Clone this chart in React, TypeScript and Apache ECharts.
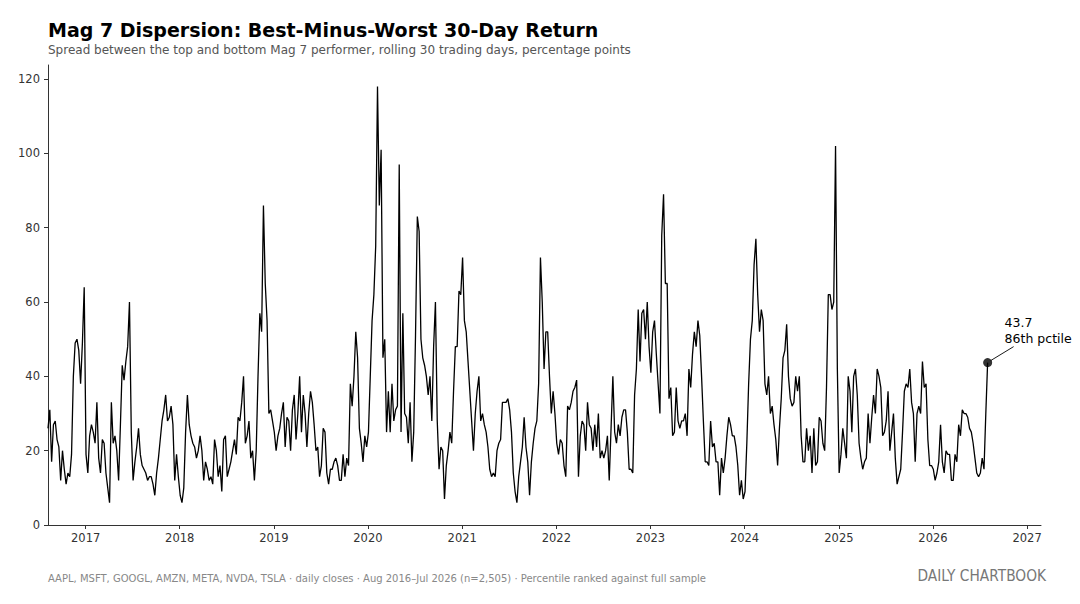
import React, { useEffect, useRef } from "react";
import * as echarts from "echarts";

// ---- data (weekly samples, starting 2016-08-08) ----
const START_DATE = "2016-08-08";
const STEP_DAYS = 7.023;

const seg2016 = [26, 31, 17, 27, 28, 23, 21, 12, 20, 15, 11, 14, 13, 19, 40, 49, 50, 47, 38, 49,
  64, 19, 14, 24, 27, 25, 22, 33, 18, 14, 23, 22, 14, 10, 6, 33, 22, 24, 20, 12,
  27, 43, 39, 44, 48, 60, 25, 12, 17, 21, 26, 19];
const seg2017 = [16, 15, 14, 12, 13, 13, 11, 8, 14, 18, 23, 28, 31, 35, 28, 29, 32, 27, 12, 19,
  13, 8, 6, 10, 25, 35, 27, 24, 22, 21, 18, 20, 24, 20, 12, 17, 15, 12, 13, 11,
  23, 20, 13, 16, 9, 23, 24, 13, 15, 17, 20, 23];
const seg2018 = [19, 29, 28, 33, 40, 22, 24, 28, 18, 20, 12, 20, 40, 57, 52, 86, 65, 55, 30, 31,
  28, 25, 20, 24, 26, 30, 33, 21, 29, 28, 20, 31, 35, 23, 30, 40, 25, 35, 30, 21,
  30, 36, 33, 27, 20, 21, 13, 16, 26, 25, 14, 11];
const seg2019 = [15, 15, 17, 18, 16, 12, 12, 19, 13, 18, 16, 38, 32, 40, 52, 45, 26, 22, 17, 24,
  21, 25, 40, 55, 62, 75, 118, 86, 101, 45, 50, 25, 36, 25, 38, 28, 31, 32, 97, 25,
  57, 30, 29, 22, 33, 17, 25, 51, 83, 79, 50, 45];
const seg2020 = [43, 40, 35, 40, 28, 48, 60, 28, 15, 21, 20, 7, 16, 20, 25, 22, 36, 48, 48, 63,
  62, 72, 55, 52, 44, 36, 28, 20, 30, 36, 40, 28, 30, 27, 25, 21, 15, 13, 14, 13,
  20, 22, 23, 33, 33, 33, 34, 31, 25, 14, 9, 6];
const seg2021 = [13, 17, 21, 29, 21, 17, 8, 17, 22, 26, 28, 38, 72, 60, 42, 52, 52, 40, 30, 36,
  30, 22, 19, 23, 22, 16, 13, 32, 31, 33, 36, 37, 39, 13, 24, 28, 27, 20, 33, 27,
  26, 20, 27, 21, 30, 18, 20, 18, 20, 24, 12, 26];
const seg2022 = [40, 25, 22, 27, 24, 29, 31, 31, 25, 15, 15, 14, 35, 42, 58, 44, 57, 58, 50, 60,
  48, 41, 52, 55, 46, 38, 30, 78, 89, 65, 65, 34, 37, 24, 25, 37, 28, 26, 28, 28,
  30, 24, 42, 37, 46, 52, 48, 55, 51, 40, 28, 17];
const seg2023 = [17, 16, 28, 21, 22, 17, 17, 8, 18, 14, 18, 24, 29, 27, 24, 24, 21, 16, 8, 12,
  7, 9, 22, 38, 50, 55, 70, 77, 62, 52, 58, 55, 38, 35, 40, 30, 32, 27, 23, 16,
  26, 34, 45, 47, 54, 40, 34, 32, 33, 40, 36, 40];
const seg2024 = [24, 17, 17, 26, 20, 24, 14, 26, 16, 17, 29, 28, 22, 20, 37, 62, 62, 58, 60, 102,
  42, 14, 19, 26, 22, 18, 40, 36, 25, 40, 42, 35, 22, 18, 15, 17, 18, 30, 22, 29,
  35, 30, 42, 40, 37, 24, 25, 28, 36, 20, 25, 30];
const seg2025 = [18, 11, 13, 15, 25, 36, 38, 37, 42, 33, 30, 17, 30, 32, 30, 44, 37, 38, 23, 16,
  16, 15, 12, 14, 17, 27, 17, 14, 20, 19, 19, 12, 12, 19, 17, 27, 24, 31, 30, 30,
  29, 26, 25, 22, 18, 14, 13, 14, 18, 15, 30, 43.7];

const LAST_PCTILE_LABEL = "86th pctile";

const xTickYears = [2017, 2018, 2019, 2020, 2021, 2022, 2023, 2024, 2025, 2026, 2027];
const yTickValues = [0, 20, 40, 60, 80, 100, 120];
const X_MAX = "2027-02-24";
const Y_MAX = 123.8;

const TITLE = "Mag 7 Dispersion: Best-Minus-Worst 30-Day Return";
const SUBTITLE = "Spread between the top and bottom Mag 7 performer, rolling 30 trading days, percentage points";
const FOOTER = "AAPL, MSFT, GOOGL, AMZN, META, NVDA, TSLA · daily closes · Aug 2016–Jul 2026 (n=2,505) · Percentile ranked against full sample";
const BRAND = "DAILY CHARTBOOK";

const FONT = '"DejaVu Sans", sans-serif';

export default function App() {
  const ref = useRef<HTMLDivElement>(null);

  useEffect(() => {
    document.body.style.margin = "0";
    if (!ref.current) return;
    const chart = echarts.init(ref.current, null, { renderer: "svg" });

    const values = [
      ...seg2016, ...seg2017, ...seg2018, ...seg2019, ...seg2020,
      ...seg2021, ...seg2022, ...seg2023, ...seg2024, ...seg2025,
    ];
    const t0 = Date.parse(START_DATE + "T00:00:00Z");
    const data = values.map((v, i) => [t0 + i * STEP_DAYS * 86400000, v]);
    const last = data[data.length - 1];
    const tickTimes = xTickYears.map((y) => Date.UTC(y, 0, 1));

    const axisColor = "#333";

    chart.setOption({
      animation: false,
      backgroundColor: "#ffffff",
      textStyle: { fontFamily: FONT },
      grid: { left: 48, right: 39, top: 65, bottom: 79, containLabel: false },
      xAxis: {
        type: "value",
        min: t0,
        max: Date.parse(X_MAX + "T00:00:00Z"),
        axisLine: { show: true, lineStyle: { color: axisColor, width: 1 } },
        axisTick: { show: true, length: 4, customValues: tickTimes, lineStyle: { color: axisColor } },
        axisLabel: {
          customValues: tickTimes,
          formatter: (v: number) => String(new Date(v).getUTCFullYear()),
          color: "#333",
          fontSize: 11.5,
          margin: 7,
          fontFamily: FONT,
        },
        splitLine: { show: false },
      },
      yAxis: {
        type: "value",
        min: 0,
        max: Y_MAX,
        axisLine: { show: true, lineStyle: { color: axisColor, width: 1 } },
        axisTick: { show: true, length: 4, customValues: yTickValues, lineStyle: { color: axisColor } },
        axisLabel: {
          customValues: yTickValues,
          color: "#333",
          fontSize: 11.5,
          margin: 8,
          fontFamily: FONT,
        },
        splitLine: { show: false },
      },
      series: [
        {
          type: "line",
          data,
          showSymbol: false,
          symbol: "none",
          lineStyle: { color: "#000", width: 1.3 },
          z: 2,
        },
        {
          type: "scatter",
          data: [last],
          symbolSize: 9,
          itemStyle: { color: "#000" },
          z: 3,
        },
      ],
      graphic: [
        { type: "text", id: "title", x: 48, y: 30, style: { text: TITLE, font: `bold 19px ${FONT}`, fill: "#000", verticalAlign: "middle" } },
        { type: "text", id: "sub", x: 48, y: 50, style: { text: SUBTITLE, font: `12px ${FONT}`, fill: "#555", verticalAlign: "middle" } },
        { type: "text", id: "foot", x: 48, y: 578, style: { text: FOOTER, font: `10px ${FONT}`, fill: "#888", verticalAlign: "middle" } },
        { type: "text", id: "brand", x: 1046, y: 576, scaleX: 0.86, originX: 0, style: { text: BRAND, font: `16px ${FONT}`, fill: "#777", align: "right", verticalAlign: "middle" } },
      ],
    });

    const p = chart.convertToPixel({ gridIndex: 0 }, last) as number[];
    if (p) {
      chart.setOption({
        graphic: [
          { type: "line", id: "annLine", shape: { x1: p[0] + 3, y1: p[1] - 2, x2: p[0] + 26, y2: p[1] - 16 }, style: { stroke: "#000", lineWidth: 0.9 } },
          { type: "text", id: "annVal", x: p[0] + 17, y: p[1] - 40, style: { text: String(last[1]), font: `12.5px ${FONT}`, fill: "#000", verticalAlign: "middle" } },
          { type: "text", id: "annPct", x: p[0] + 17, y: p[1] - 24, style: { text: LAST_PCTILE_LABEL, font: `12.5px ${FONT}`, fill: "#000", verticalAlign: "middle" } },
        ],
      });
    }

    return () => chart.dispose();
  }, []);

  return <div ref={ref} style={{ position: "absolute", left: 0, top: 0, width: 1080, height: 604 }} />;
}
